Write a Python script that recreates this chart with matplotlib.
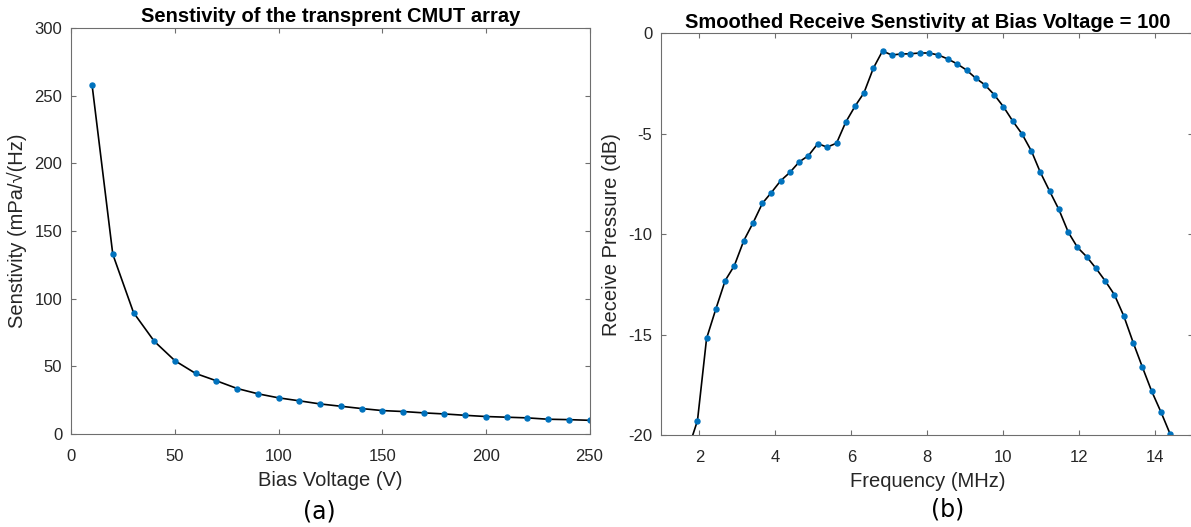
import matplotlib
matplotlib.use("Agg")
import matplotlib.pyplot as plt

plt.rcParams['font.family'] = ['Liberation Sans', 'DejaVu Sans']
plt.rcParams['axes.unicode_minus'] = False

# (a) sensitivity vs bias voltage
bias_v = [10, 20, 30, 40, 50, 60, 70, 80, 90, 100, 110, 120, 130,
          140, 150, 160, 170, 180, 190, 200, 210, 220, 230, 240, 250]
sens = [257.9, 132.8, 89.7, 68.5, 54.1, 44.7, 39.3, 33.6, 29.7, 26.7,
        24.5, 22.2, 20.5, 18.8, 17.3, 16.6, 15.6, 14.8, 13.8, 12.9,
        12.4, 11.9, 10.9, 10.6, 10.1]

# (b) smoothed receive sensitivity at 100 V
freq = [1.70, 1.95, 2.19, 2.43, 2.68, 2.92, 3.17, 3.41, 3.66, 3.89,
        4.14, 4.38, 4.63, 4.87, 5.12, 5.36, 5.61, 5.85, 6.10, 6.33,
        6.58, 6.82, 7.06, 7.31, 7.55, 7.80, 8.04, 8.29, 8.54, 8.78,
        9.03, 9.27, 9.51, 9.76, 10.00, 10.25, 10.49, 10.74, 10.97, 11.22,
        11.46, 11.71, 11.95, 12.19, 12.44, 12.68, 12.92, 13.17, 13.42, 13.66,
        13.90, 14.15, 14.39]
rx_db = [-20.73, -19.29, -15.19, -13.75, -12.31, -11.57, -10.32, -9.45, -8.46, -7.94,
         -7.34, -6.93, -6.40, -6.09, -5.49, -5.67, -5.47, -4.43, -3.62, -2.97,
         -1.73, -0.88, -1.08, -1.03, -1.02, -0.98, -0.98, -1.08, -1.28, -1.52,
         -1.83, -2.23, -2.56, -3.06, -3.65, -4.38, -5.01, -5.87, -6.91, -7.87,
         -8.77, -9.91, -10.66, -11.12, -11.71, -12.33, -13.01, -14.08, -15.42, -16.63,
         -17.81, -18.87, -19.96]

blue = '#0072BD'
spine_c = '#6e6e6e'
text_c = '#262626'

fig = plt.figure(figsize=(11.91, 5.27), dpi=100)
ax1 = fig.add_axes([0.0599, 0.1765, 0.4351, 0.7704])
ax2 = fig.add_axes([0.5553, 0.1746, 0.4467, 0.7622])


def style(ax):
    for s in ax.spines.values():
        s.set_color(spine_c)
        s.set_linewidth(0.8)
    ax.tick_params(direction='in', top=True, right=True, length=3.6,
                   width=0.8, color=spine_c, labelcolor=text_c, labelsize=12)
    ax.tick_params(axis='x', pad=11)
    ax.tick_params(axis='y', pad=6.5)


ax1.plot(bias_v, sens, color='black', lw=1.2, marker='o', ms=3.6,
         mfc=blue, mec=blue)
ax1.set_xlim(0, 250)
ax1.set_ylim(0, 300)
ax1.set_xticks(range(0, 251, 50))
ax1.set_yticks(range(0, 301, 50))
style(ax1)
ax1.set_title('Senstivity of the transprent CMUT array', fontsize=14.5,
              fontweight='bold', pad=4)
ax1.set_xlabel('Bias Voltage (V)', fontsize=14.5, color=text_c, labelpad=5)
ax1.set_ylabel('Senstivity (mPa/\u221a(Hz)', fontsize=14.5, color=text_c,
               labelpad=5)

ax2.plot(freq, rx_db, color='black', lw=1.2, marker='o', ms=3.6,
         mfc=blue, mec=blue)
ax2.set_xlim(1, 15)
ax2.set_ylim(-20, 0)
ax2.set_xticks(range(2, 15, 2))
ax2.set_yticks(range(-20, 1, 5))
style(ax2)
ax2.set_title('Smoothed Receive Senstivity at Bias Voltage = 100',
              fontsize=14.5, fontweight='bold', pad=4)
ax2.set_xlabel('Frequency (MHz)', fontsize=14.5, color=text_c, labelpad=5)
ax2.set_ylabel('Receive Pressure (dB)', fontsize=14.5, color=text_c,
               labelpad=5)

fig.text(319.5 / 1191, 1 - 511.7 / 527, '(a)', family='DejaVu Sans',
         fontsize=17, ha='center', va='center')
fig.text(947.8 / 1191, 1 - 510 / 527, '(b)', family='DejaVu Sans',
         fontsize=17, ha='center', va='center')

fig.savefig('out.png', dpi=100)
